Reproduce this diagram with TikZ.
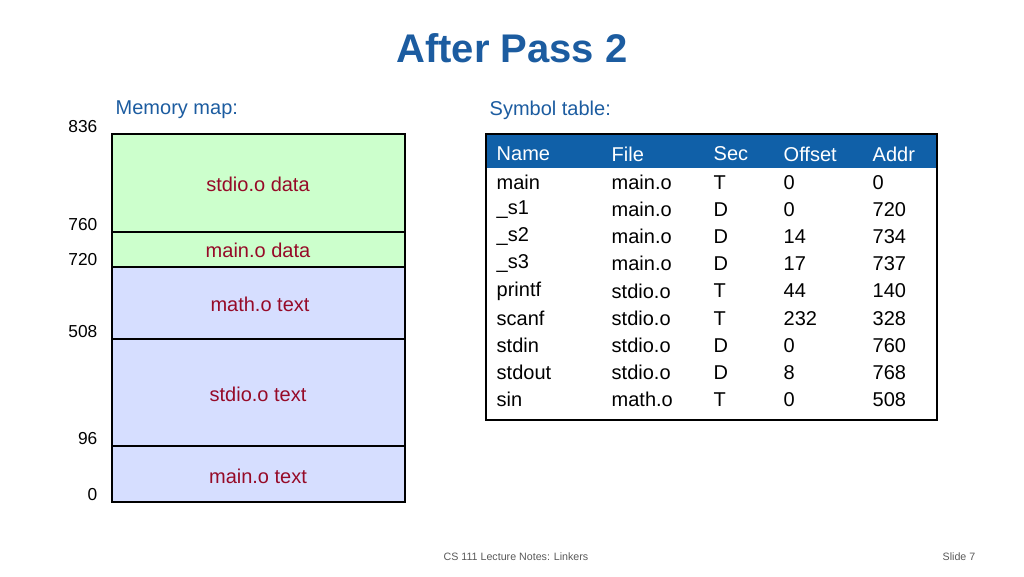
\documentclass[tikz,border=0pt]{standalone}
\usepackage{fontspec}
\setmainfont{Liberation Sans}
\definecolor{titleblue}{RGB}{28,92,160}
\definecolor{headblue}{RGB}{16,96,168}
\definecolor{segred}{RGB}{150,10,40}
\definecolor{datagreen}{RGB}{204,255,204}
\definecolor{textblue}{RGB}{214,222,255}
\tikzset{
  seg/.style={draw=black, thick},
  seglabel/.style={text=segred, font=\fontsize{15}{18}\selectfont},
  addr/.style={anchor=east, font=\fontsize{13}{15}\selectfont},
  cell/.style={anchor=west, font=\fontsize{15}{18}\selectfont}
}
\begin{document}
\begin{tikzpicture}[x=0.75pt,y=-0.75pt]
    \useasboundingbox (0,0) rectangle (1024,576);

    \node[text=titleblue, font=\fontsize{30}{36}\selectfont\bfseries] (title) at (512,48) {After Pass 2};
    \node[text=titleblue, anchor=west, font=\fontsize{15}{18}\selectfont] (maphead) at (111,110) {Memory map:};
    \node[text=titleblue, anchor=west, font=\fontsize{15}{18}\selectfont] (symhead) at (485,110) {Symbol table:};

    % memory map
    \fill[datagreen] (112,134) rectangle (405,267);
    \fill[textblue] (112,267) rectangle (405,502);
    \draw[seg] (112,134) rectangle (405,502);
    \foreach \y/\a in {134/836, 232/760, 267/720, 339/508, 446/96, 502/0} {
        \draw[seg] (112,\y) -- (405,\y);
        \node[addr] at (102,\y-7) {\a};
    }
    \node[seglabel] (sdata) at (258,184) {stdio.o data};
    \node[seglabel] (mdata) at (258,250) {main.o data};
    \node[seglabel] (mtext) at (260,304) {math.o text};
    \node[seglabel] (stext) at (258,394) {stdio.o text};
    \node[seglabel] (maintext) at (258,476) {main.o text};

    % symbol table
    \fill[headblue] (486,134) rectangle (937,168);
    \draw[thick] (486,134) rectangle (937,420);
    \foreach \n/\f/\s/\o/\d [count=\i] in {main/main.o/T/0/0, \_s1/main.o/D/0/720,
        \_s2/main.o/D/14/734, \_s3/main.o/D/17/737, printf/stdio.o/T/44/140,
        scanf/stdio.o/T/232/328, stdin/stdio.o/D/0/760, stdout/stdio.o/D/8/768,
        sin/math.o/T/0/508} {
        \pgfmathsetmacro{\ry}{155+27.2*\i}
        \node[cell] at (492,\ry) {\n};
        \node[cell] at (607,\ry) {\f};
        \node[cell] at (709,\ry) {\s};
        \node[cell] at (779,\ry) {\o};
        \node[cell] at (868,\ry) {\d};
    }
    \foreach \x/\h in {492/Name, 607/File, 709/Sec, 779/Offset, 868/Addr}
        \node[cell, text=white] at (\x,154) {\h};

    \node[text=gray!70!black, font=\fontsize{8}{10}\selectfont] (foot) at (516,557) {CS 111 Lecture Notes: Linkers};
    \node[text=gray!70!black, font=\fontsize{8}{10}\selectfont, anchor=east] (slide) at (980,557) {Slide 7};
\end{tikzpicture}
\end{document}
